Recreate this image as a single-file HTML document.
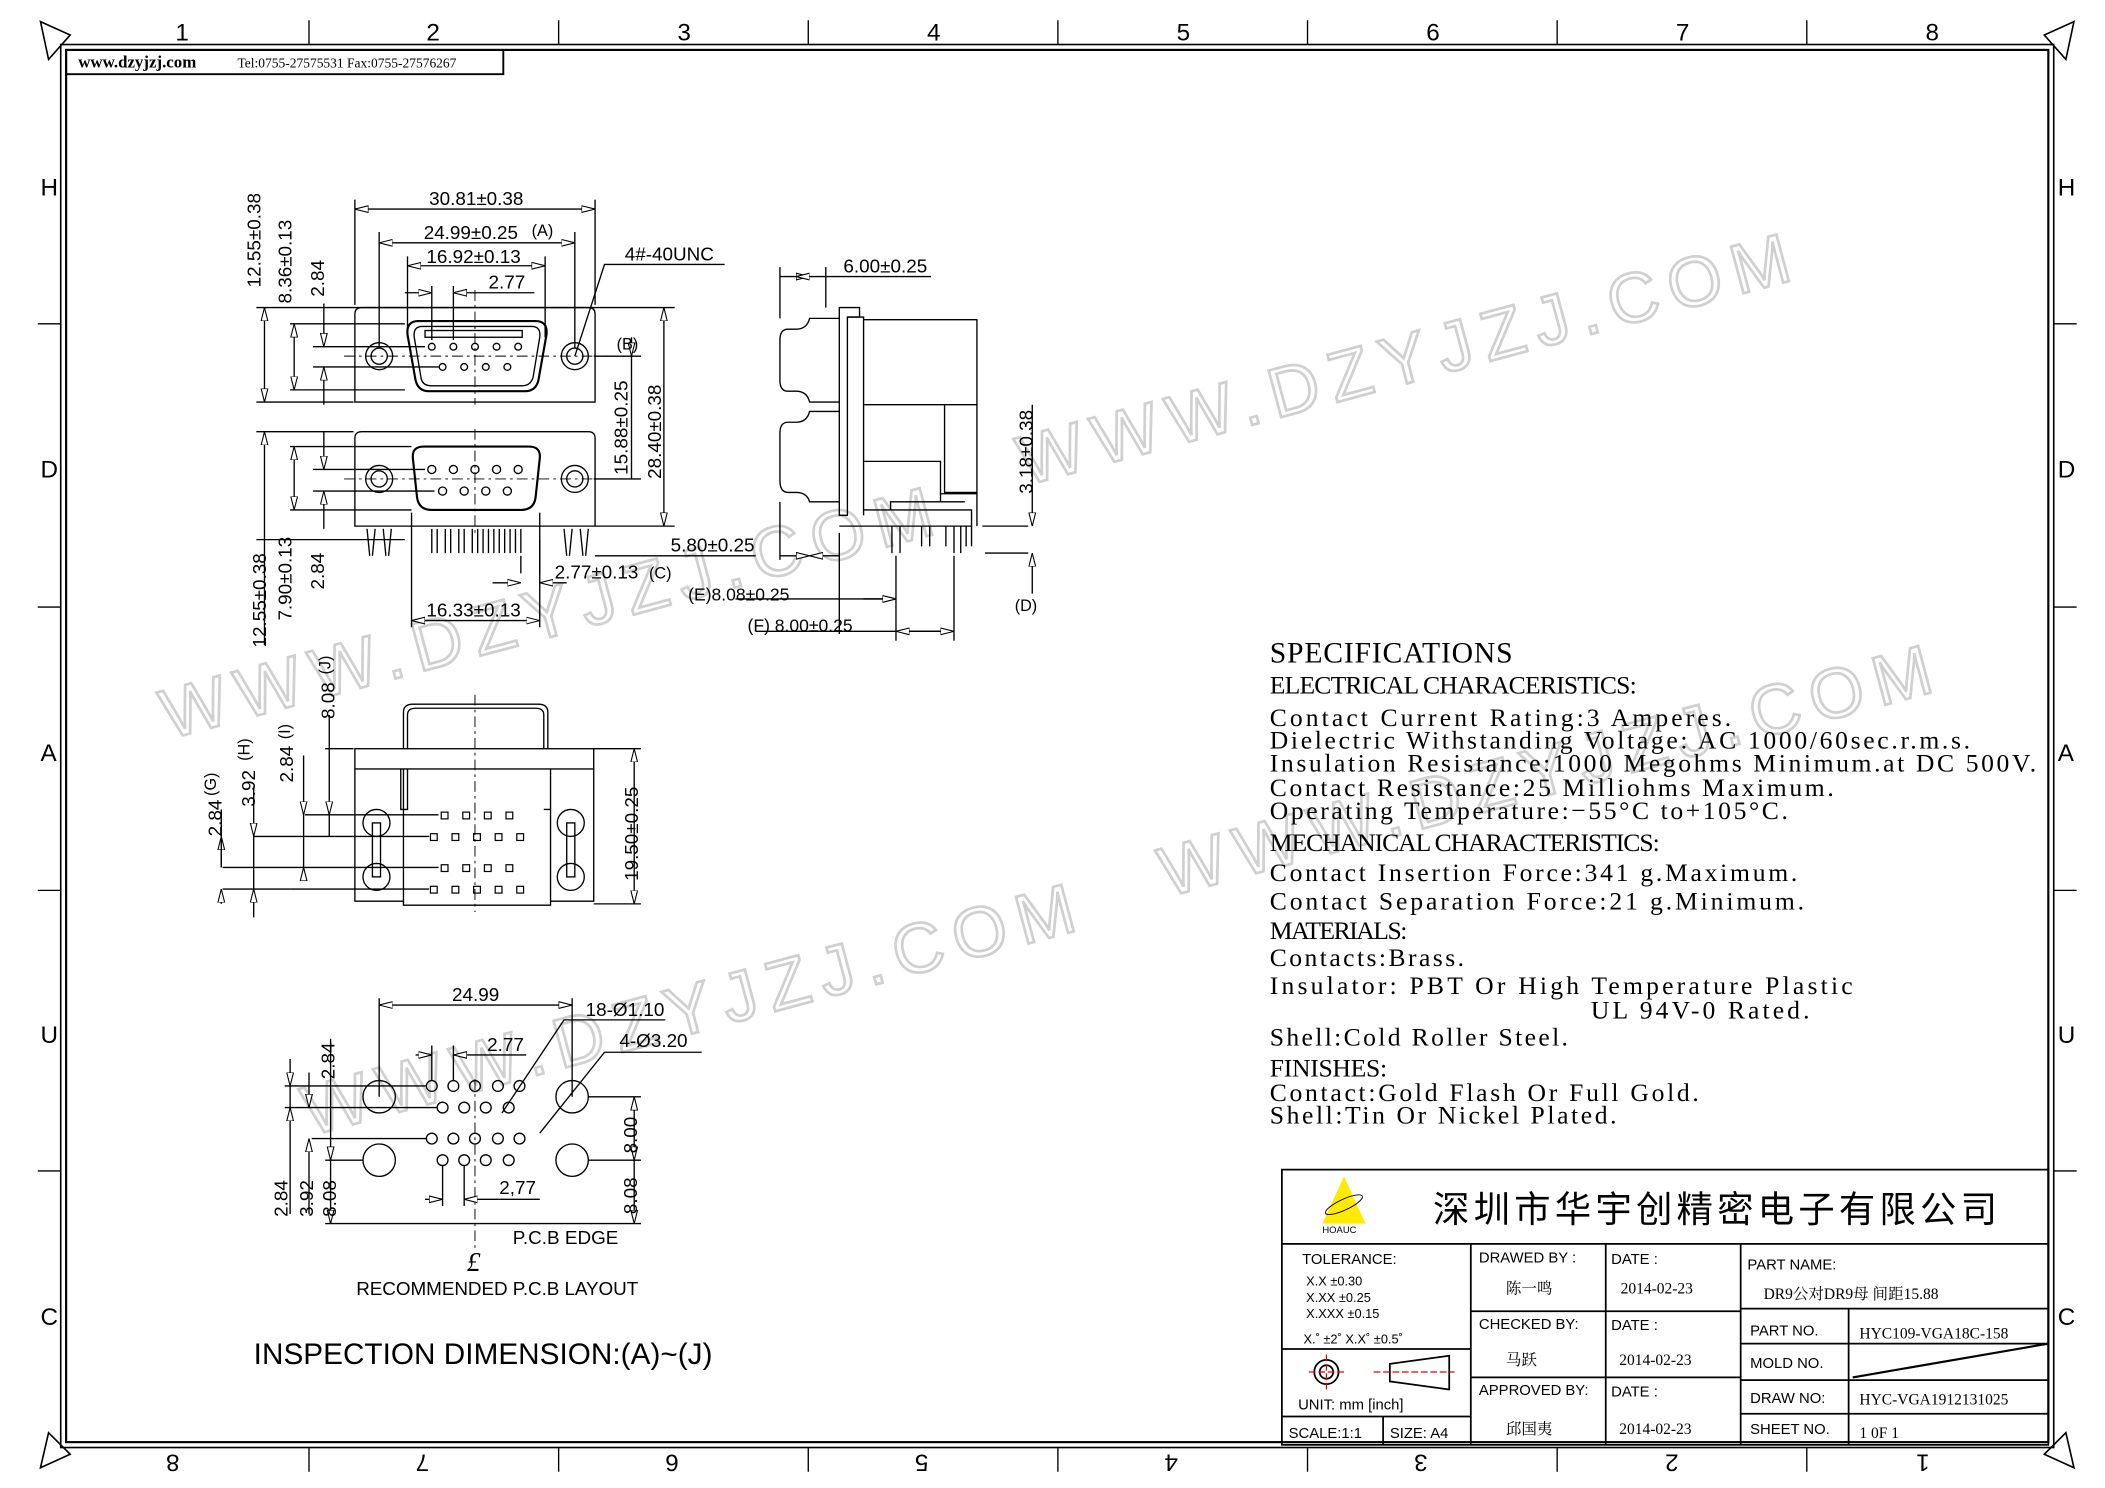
<!DOCTYPE html>
<html><head><meta charset="utf-8"><style>
html,body{margin:0;padding:0;background:#fff}
svg{display:block;font-family:"Liberation Sans","Noto Sans CJK SC",sans-serif}
g.sp{font-family:"Liberation Serif","Noto Serif CJK SC",serif;font-size:19px}
g.d{font-size:14px}
g.wm{font-family:"Liberation Sans",sans-serif;font-size:52px;font-weight:normal;fill:none;stroke:#d0d0d0;stroke-width:2}
g.ser{font-family:"Liberation Serif","Noto Serif CJK SC",serif;font-size:11.5px}
</style></head><body>
<svg width="2105" height="1488" viewBox="0 0 1560 1103" preserveAspectRatio="none" xmlns="http://www.w3.org/2000/svg">
<defs>
<marker id="a" viewBox="0 0 10 6" refX="10" refY="3" markerWidth="10" markerHeight="6" orient="auto-start-reverse" markerUnits="userSpaceOnUse"><path d="M0,0.5 L10,3 L0,5.5 Z" fill="#fff" stroke="#000" stroke-width="0.8"/></marker>
</defs>
<rect width="1560" height="1103" fill="#fff"/>

<g class="wm">
<text x="760" y="360" transform="rotate(-15 760 360)" textLength="590">WWW.DZYJZJ.COM</text>
<text x="125" y="548" transform="rotate(-15 125 548)" textLength="590">WWW.DZYJZJ.COM</text>
<text x="865" y="665" transform="rotate(-15 865 665)" textLength="590">WWW.DZYJZJ.COM</text>
<text x="230" y="842" transform="rotate(-15 230 842)" textLength="590">WWW.DZYJZJ.COM</text>
</g>

<g fill="none" stroke="#000">
<rect x="45" y="33" width="1477" height="1040" stroke-width="1.2"/>
<rect x="49" y="37" width="1469" height="1032" stroke-width="1.6"/>
<path d="M229,15V33 M414,15V33 M599,15V33 M784,15V33 M969,15V33 M1154,15V33 M1339,15V33"/>
<path d="M229,1073V1091 M414,1073V1091 M599,1073V1091 M784,1073V1091 M969,1073V1091 M1154,1073V1091 M1339,1073V1091"/>
<path d="M28,240H45 M28,450H45 M28,660H45 M28,868H45 M1522,240H1539 M1522,450H1539 M1522,660H1539 M1522,868H1539"/>
<path d="M30,16 L52,26 L36,44 Z M1537,16 L1515,26 L1531,44 Z M30,1088 L52,1078 L36,1062 Z M1537,1088 L1515,1078 L1531,1062 Z" stroke-width="1.2"/>
</g>
<g font-size="18">
<text x="130" y="30">1</text><text x="316" y="30">2</text><text x="502" y="30">3</text><text x="687" y="30">4</text><text x="872" y="30">5</text><text x="1057" y="30">6</text><text x="1242" y="30">7</text><text x="1427" y="30">8</text>
<g transform="rotate(180 780 1084)"><text x="130" y="1090">1</text><text x="316" y="1090">2</text><text x="502" y="1090">3</text><text x="687" y="1090">4</text><text x="872" y="1090">5</text><text x="1057" y="1090">6</text><text x="1242" y="1090">7</text><text x="1427" y="1090">8</text></g>
<text x="30" y="145">H</text><text x="30" y="354">D</text><text x="30" y="564">A</text><text x="30" y="773">U</text><text x="30" y="982">C</text>
<text x="1525" y="145">H</text><text x="1525" y="354">D</text><text x="1525" y="564">A</text><text x="1525" y="773">U</text><text x="1525" y="982">C</text>
</g>
<rect x="49" y="37" width="324" height="18" fill="none" stroke="#000" stroke-width="1.4"/>
<text x="58" y="50" font-family="Liberation Serif,serif" font-weight="bold" font-size="12.5">www.dzyjzj.com</text>
<text x="176" y="50" font-family="Liberation Serif,serif" font-size="10">Tel:0755-27575531  Fax:0755-27576267</text>

<!-- FRONT VIEW -->
<g fill="none" stroke="#000" stroke-width="1">
<path d="M268,228 H436 Q441,228 441,233 V298 H263 V233 Q263,228 268,228 Z"/>
<path d="M310,238 H397 Q406,238 405,248 L399,282 Q397,290 389,290 H318 Q310,290 308,282 L302,248 Q301,238 310,238 Z" stroke-width="1.6"/>
<path d="M313,242 H394 Q401,242 400,250 L395,280 Q393,286 387,286 H320 Q313,286 312,280 L307,250 Q306,242 313,242 Z"/>
<rect x="315" y="245" width="72" height="5"/>
<circle cx="281" cy="264" r="10"/><circle cx="281" cy="264" r="6"/>
<circle cx="426" cy="264" r="10"/><circle cx="426" cy="264" r="6"/>
<circle cx="320" cy="257" r="2.5"/><circle cx="336" cy="257" r="2.5"/><circle cx="352" cy="257" r="2.5"/><circle cx="368" cy="257" r="2.5"/><circle cx="384" cy="257" r="2.5"/>
<circle cx="328" cy="272" r="2.5"/><circle cx="344" cy="272" r="2.5"/><circle cx="360" cy="272" r="2.5"/><circle cx="376" cy="272" r="2.5"/>
<path d="M268,320 H436 Q441,320 441,325 V390 H263 V325 Q263,320 268,320 Z"/>
<path d="M314,331 H392 Q401,331 400,340 L397,368 Q396,378 386,378 H320 Q310,378 309,368 L306,340 Q305,331 314,331 Z" stroke-width="1.6"/>
<circle cx="281" cy="355" r="10"/><circle cx="281" cy="355" r="6"/>
<circle cx="426" cy="355" r="10"/><circle cx="426" cy="355" r="6"/>
<circle cx="320" cy="348" r="3"/><circle cx="336" cy="348" r="3"/><circle cx="352" cy="348" r="3"/><circle cx="368" cy="348" r="3"/><circle cx="384" cy="348" r="3"/>
<circle cx="328" cy="364" r="3"/><circle cx="344" cy="364" r="3"/><circle cx="360" cy="364" r="3"/><circle cx="376" cy="364" r="3"/>
<path d="M320,392V410 M324,392V410 M330,392V410 M334,392V410 M340,392V410 M344,392V410 M350,392V410 M354,392V410 M358,392V410 M362,392V410 M366,392V410 M370,392V410 M374,392V410 M378,392V410 M382,392V410 M386,392V410"/>
<path d="M272,392 L274,412 M278,392 L276,412 M284,392 L286,412 M290,392 L288,412"/>
<path d="M418,392 L420,412 M424,392 L422,412 M430,392 L432,412 M436,392 L434,412"/>
<path d="M352,215 V300 M352,318 V395 M255,264 H450 M255,355 H450" stroke-dasharray="8,3,2,3" stroke-width="0.7"/>
<path d="M263,226 V148 M441,226 V148 M281,258 V172 M426,258 V172 M302,250 V190 M404,250 V190 M320,252 V212 M336,252 V212"/>
<path d="M263,155 H441" marker-start="url(#a)" marker-end="url(#a)"/>
<path d="M281,180 H426" marker-start="url(#a)" marker-end="url(#a)"/>
<path d="M302,197 H404" marker-start="url(#a)" marker-end="url(#a)"/>
<path d="M300,217 H320" marker-end="url(#a)"/><path d="M396,217 H336" marker-end="url(#a)"/>
<path d="M426,264 L448,196 H537"/>
<path d="M190,228 H500 M215,240 H300 M232,257 H315 M232,272 H325 M215,289 H300 M190,298 H262"/>
<path d="M196,228 V298" marker-start="url(#a)" marker-end="url(#a)"/>
<path d="M218,240 V289" marker-start="url(#a)" marker-end="url(#a)"/>
<path d="M240,225 V257" marker-end="url(#a)"/><path d="M240,300 V272" marker-end="url(#a)"/>
<path d="M492,228 V390" marker-start="url(#a)" marker-end="url(#a)"/>
<path d="M468,250 V264" marker-end="url(#a)"/><path d="M468,355 V264"/>
<path d="M440,264 H475 M440,355 H475 M441,390 H500"/>
<path d="M190,320 H262 M215,331 H305 M232,348 H315 M232,364 H322 M215,378 H305 M190,400 H300"/>
<path d="M196,320 V478" marker-start="url(#a)"/>
<path d="M218,331 V378" marker-start="url(#a)" marker-end="url(#a)"/>
<path d="M240,320 V348" marker-end="url(#a)"/><path d="M240,392 V364" marker-end="url(#a)"/>
<path d="M305,380 V465 M400,380 V465"/>
<path d="M305,460 H400" marker-start="url(#a)" marker-end="url(#a)"/>
<path d="M400,400 V425 M386,412 V425 M365,432 H386" marker-end="url(#a)"/>
<path d="M420,432 H400" marker-end="url(#a)"/>
<path d="M560,412 H441"/>
</g>
<g class="d">
<text x="318" y="152">30.81±0.38</text>
<text x="314" y="177">24.99±0.25</text><text x="394" y="175" font-size="12">(A)</text>
<text x="316" y="195">16.92±0.13</text>
<text x="362" y="214">2.77</text>
<text x="463" y="193">4#-40UNC</text>
<text x="457" y="259" font-size="12">(B)</text>
<text x="497" y="409">5.80±0.25</text>
<text x="411" y="429">2.77±0.13</text><text x="481" y="429" font-size="12">(C)</text>
<text x="316" y="457">16.33±0.13</text>
<text transform="translate(193,213) rotate(-90)">12.55±0.38</text>
<text transform="translate(216,225) rotate(-90)">8.36±0.13</text>
<text transform="translate(240,220) rotate(-90)">2.84</text>
<text transform="translate(197,480) rotate(-90)">12.55±0.38</text>
<text transform="translate(216,460) rotate(-90)">7.90±0.13</text>
<text transform="translate(240,437) rotate(-90)">2.84</text>
<text transform="translate(465,352) rotate(-90)">15.88±0.25</text>
<text transform="translate(490,355) rotate(-90)">28.40±0.38</text>
</g>

<!-- SIDE VIEW -->
<g fill="none" stroke="#000" stroke-width="1">
<path d="M622,228 H637 V235 H628 V382 H622 Z"/>
<path d="M628,235 H640 V382"/>
<path d="M622,236 H600 Q598,244 590,244 H584 Q578,244 578,252 V282 Q578,290 584,290 H590 Q598,290 600,298 H622"/>
<path d="M622,305 H600 Q598,313 590,313 H584 Q578,313 578,321 V356 Q578,365 584,365 H590 Q598,365 600,372 H622"/>
<path d="M640,237 H724 V390 M640,300 H724 M640,342 H697 V372 M700,300 V365 H724 M697,366 H724"/>
<path d="M640,378 H720 V390 H622 M660,378 V372 H715"/>
<path d="M661,390V410 M667,390V410 M683,390V405 M689,390V405 M701,390V405 M707,390V410 M712,390V410 M716,390V405 M720,390V405"/>
<path d="M578,236 V198 M612,228 V198 M578,205 H600" marker-end="url(#a)"/>
<path d="M612,205 H590" marker-end="url(#a)"/>
<path d="M612,205 H690"/>
<path d="M578,372 V415 M622,395 V470 M664,412 V475 M707,412 V475"/>
<path d="M578,412 H600" marker-end="url(#a)"/><path d="M622,412 H600" marker-end="url(#a)"/>
<path d="M545,444 H664" marker-end="url(#a)"/><path d="M664,444 H640" marker-start="url(#a)"/>
<path d="M560,468 H707"/>
<path d="M664,468 H707" marker-start="url(#a)" marker-end="url(#a)"/>
<path d="M728,390 H762 M730,410 H762"/>
<path d="M765,300 V390" marker-end="url(#a)"/><path d="M765,440 V410" marker-end="url(#a)"/>
</g>
<g class="d">
<text x="625" y="202">6.00±0.25</text>
<text transform="translate(765,366) rotate(-90)">3.18±0.38</text>
<text x="752" y="453" font-size="12">(D)</text>
<text x="510" y="445" font-size="13">(E)8.08±0.25</text>
<text x="554" y="468" font-size="13">(F) 8.00±0.25</text>
</g>

<!-- BOTTOM VIEW -->
<g fill="none" stroke="#000" stroke-width="1">
<path d="M299,555 V528 Q299,522 306,522 H399 Q406,522 406,528 V555 M302,555 V530 Q302,525 308,525 H397 Q403,525 403,530 V555"/>
<rect x="263" y="555" width="177" height="15"/>
<path d="M263,570 V668 H299 M440,570 V668 H408 M299,570 V671 H408 V570 M297,570 V600 H302 V570 M408,570 V600 H403"/>
<circle cx="279" cy="610" r="10"/><circle cx="279" cy="650" r="10"/><rect x="276" y="610" width="6" height="40"/>
<circle cx="423" cy="610" r="10"/><circle cx="423" cy="650" r="10"/><rect x="420" y="610" width="6" height="40"/>
<path d="M352,515 V676" stroke-dasharray="8,3,2,3" stroke-width="0.7"/>
<g stroke-width="0.9">
<rect x="327" y="602" width="5" height="5"/><rect x="343" y="602" width="5" height="5"/><rect x="359" y="602" width="5" height="5"/><rect x="375" y="602" width="5" height="5"/>
<rect x="319" y="618" width="5" height="5"/><rect x="335" y="618" width="5" height="5"/><rect x="351" y="618" width="5" height="5"/><rect x="367" y="618" width="5" height="5"/><rect x="383" y="618" width="5" height="5"/>
<rect x="327" y="641" width="5" height="5"/><rect x="343" y="641" width="5" height="5"/><rect x="359" y="641" width="5" height="5"/><rect x="375" y="641" width="5" height="5"/>
<rect x="319" y="657" width="5" height="5"/><rect x="335" y="657" width="5" height="5"/><rect x="351" y="657" width="5" height="5"/><rect x="367" y="657" width="5" height="5"/><rect x="383" y="657" width="5" height="5"/>
</g>
<path d="M226,604 H325 M248,620 H318 M216,643 H325 M215,659 H318 M440,555 H475 M440,670 H475"/>
<path d="M241,555 H262"/>
<path d="M470,555 V670" marker-start="url(#a)" marker-end="url(#a)"/>
<path d="M244,530 V604" marker-end="url(#a)"/><path d="M244,620 V604"/>
<path d="M225,560 V643"/><path d="M225,600 V604" marker-end="url(#a)"/><path d="M225,650 V643" marker-end="url(#a)"/>
<path d="M188,583 V620" marker-end="url(#a)"/><path d="M188,680 V659" marker-end="url(#a)"/><path d="M188,620 V659"/>
<path d="M164,620 V643" marker-start="url(#a)"/><path d="M164,670 V659" marker-end="url(#a)"/><path d="M164,600 V643"/>
<path d="M165,643 H216 M165,659 H215 M188,620 H248"/>
</g>
<g class="d">
<text transform="translate(248,533) rotate(-90)">8.08</text>
<text transform="translate(245,500) rotate(-90)" font-size="12">(J)</text>
<text transform="translate(217,580) rotate(-90)">2.84</text>
<text transform="translate(215,548) rotate(-90)" font-size="12">(I)</text>
<text transform="translate(189,598) rotate(-90)">3.92</text>
<text transform="translate(185,564) rotate(-90)" font-size="12">(H)</text>
<text transform="translate(164,620) rotate(-90)">2.84</text>
<text transform="translate(160,590) rotate(-90)" font-size="12">(G)</text>
<text transform="translate(473,653) rotate(-90)">19.50±0.25</text>
</g>

<!-- PCB LAYOUT -->
<g fill="none" stroke="#000" stroke-width="1">
<circle cx="281" cy="813" r="12"/><circle cx="424" cy="813" r="12"/><circle cx="281" cy="860" r="12"/><circle cx="424" cy="860" r="12"/>
<circle cx="320" cy="805" r="4"/><circle cx="336" cy="805" r="4"/><circle cx="352" cy="805" r="4"/><circle cx="369" cy="805" r="4"/><circle cx="385" cy="805" r="4"/>
<circle cx="328" cy="821" r="4"/><circle cx="344" cy="821" r="4"/><circle cx="360" cy="821" r="4"/><circle cx="377" cy="821" r="4"/>
<circle cx="320" cy="844" r="4"/><circle cx="336" cy="844" r="4"/><circle cx="352" cy="844" r="4"/><circle cx="369" cy="844" r="4"/><circle cx="385" cy="844" r="4"/>
<circle cx="328" cy="860" r="4"/><circle cx="344" cy="860" r="4"/><circle cx="360" cy="860" r="4"/><circle cx="377" cy="860" r="4"/>
<path d="M352,800 V925" stroke-dasharray="8,3,2,3" stroke-width="0.7"/>
<path d="M281,813 V740 M424,813 V740"/>
<path d="M281,745 H424" marker-start="url(#a)" marker-end="url(#a)"/>
<path d="M308,782 H320" marker-end="url(#a)"/><path d="M390,782 H336" marker-end="url(#a)"/>
<path d="M320,801 V775 M336,801 V775"/>
<path d="M315,889 H328" marker-end="url(#a)"/><path d="M400,889 H344" marker-end="url(#a)"/>
<path d="M328,864 V894 M344,864 V894"/>
<path d="M372,825 L418,756 H493"/>
<path d="M400,840 L448,780 H520"/>
<path d="M211,805 H316 M211,821 H324 M231,844 H316 M241,860 H269 M436,813 H475 M436,860 H475"/>
<path d="M241,907 H475"/>
<path d="M470,813 V860" marker-start="url(#a)" marker-end="url(#a)"/>
<path d="M470,860 V907" marker-end="url(#a)"/>
<path d="M215,785 V805" marker-end="url(#a)"/><path d="M215,900 V821" marker-end="url(#a)"/><path d="M215,805 V821"/>
<path d="M229,795 V821" marker-end="url(#a)"/><path d="M229,900 V844" marker-end="url(#a)"/>
<path d="M245,770 V860" marker-end="url(#a)"/><path d="M245,860 V907" marker-end="url(#a)"/>
</g>
<g class="d">
<text x="335" y="742">24.99</text>
<text x="434" y="753">18-Ø1.10</text>
<text x="459" y="776">4-Ø3.20</text>
<text x="361" y="779">2.77</text>
<text x="370" y="885">2,77</text>
<text transform="translate(472,855) rotate(-90)">8.00</text>
<text transform="translate(472,900) rotate(-90)">8.08</text>
<text transform="translate(248,800) rotate(-90)">2.84</text>
<text transform="translate(213,902) rotate(-90)">2.84</text>
<text transform="translate(232,902) rotate(-90)">3.92</text>
<text transform="translate(249,902) rotate(-90)">8.08</text>
<text x="380" y="922">P.C.B EDGE</text>
<text x="346" y="942" font-family="Liberation Serif,serif" font-style="italic" font-size="20">£</text>
<text x="264" y="960" font-size="14" textLength="209">RECOMMENDED P.C.B LAYOUT</text>
<text x="188" y="1011" font-size="22" textLength="340">INSPECTION DIMENSION:(A)~(J)</text>
</g>

<!-- SPECS -->
<g class="sp">
<text x="941" y="491" font-size="22" textLength="180">SPECIFICATIONS</text>
<text x="941" y="514" textLength="272">ELECTRICAL CHARACERISTICS:</text>
<text x="941" y="538" textLength="342">Contact Current Rating:3 Amperes.</text>
<text x="941" y="555" textLength="519">Dielectric Withstanding Voltage: AC 1000/60sec.r.m.s.</text>
<text x="941" y="572" textLength="568">Insulation Resistance:1000 Megohms Minimum.at DC 500V.</text>
<text x="941" y="590" textLength="418">Contact Resistance:25 Milliohms Maximum.</text>
<text x="941" y="607" textLength="384">Operating Temperature:−55°C to+105°C.</text>
<text x="941" y="631" textLength="289">MECHANICAL CHARACTERISTICS:</text>
<text x="941" y="653" textLength="391">Contact Insertion Force:341 g.Maximum.</text>
<text x="941" y="674" textLength="396">Contact Separation Force:21 g.Minimum.</text>
<text x="941" y="696" textLength="102">MATERIALS:</text>
<text x="941" y="716" textLength="144">Contacts:Brass.</text>
<text x="941" y="737" textLength="432">Insulator: PBT Or High Temperature Plastic</text>
<text x="1179" y="755" textLength="162">UL 94V-0 Rated.</text>
<text x="941" y="775" textLength="221">Shell:Cold Roller Steel.</text>
<text x="941" y="798" textLength="87">FINISHES:</text>
<text x="941" y="816" textLength="318">Contact:Gold Flash Or Full Gold.</text>
<text x="941" y="833" textLength="257">Shell:Tin Or Nickel Plated.</text>
</g>

<!-- TITLE BLOCK -->
<g fill="none" stroke="#000" stroke-width="1.3">
<rect x="950" y="867" width="568" height="204"/>
<path d="M950,922 H1518 M1090,922 V1071 M1190,922 V1071 M1290,922 V1071 M1370,970 V1071"/>
<path d="M1090,972 H1290 M1090,1021 H1290 M1290,970 H1518 M1290,996 H1518 M1290,1023 H1518 M1290,1048 H1518"/>
<path d="M950,1000 H1090 M950,1050 H1090 M1025,1050 V1071"/>
<path d="M1373,1021 L1518,996" stroke-width="1.6"/>
<circle cx="983" cy="1017" r="9"/><circle cx="983" cy="1017" r="5"/>
<path d="M1030,1011 L1074,1005 V1030 L1030,1024 Z"/>
</g>
<path d="M970,1017 H996 M983,1004 V1030 M1018,1017 H1078" stroke="#e00" stroke-width="0.9" stroke-dasharray="5,2"/>
<path d="M996,872 L1012,907 H980 Z" fill="#ffea00"/>
<ellipse cx="996" cy="893" rx="15" ry="4" transform="rotate(-25 996 893)" fill="none" stroke="#000" stroke-width="0.7"/>
<text x="980" y="914" font-size="7">HOAUC</text>
<text x="1062" y="906" font-size="27" textLength="418">深圳市华宇创精密电子有限公司</text>
<g font-size="11">
<text x="965" y="937">TOLERANCE:</text>
<text x="968" y="953" font-size="9.5">X.X      ±0.30</text>
<text x="968" y="965" font-size="9.5">X.XX     ±0.25</text>
<text x="968" y="977" font-size="9.5">X.XXX  ±0.15</text>
<text x="966" y="996" font-size="9.5">X.˚ ±2˚      X.X˚ ±0.5˚</text>
<text x="962" y="1045">UNIT:  mm  [inch]</text>
<text x="955" y="1066">SCALE:1:1</text>
<text x="1030" y="1066">SIZE:  A4</text>
<text x="1096" y="936">DRAWED  BY  :</text>
<text x="1096" y="985">CHECKED  BY:</text>
<text x="1096" y="1034">APPROVED  BY:</text>
<text x="1194" y="937">DATE  :</text>
<text x="1194" y="986">DATE  :</text>
<text x="1194" y="1035">DATE  :</text>
<text x="1295" y="941">PART  NAME:</text>
<text x="1297" y="990">PART  NO.</text>
<text x="1297" y="1014">MOLD  NO.</text>
<text x="1297" y="1040">DRAW  NO:</text>
<text x="1297" y="1063">SHEET  NO.</text>
</g>
<g class="ser">
<text x="1116" y="959">陈一鸣</text>
<text x="1116" y="1012">马跃</text>
<text x="1116" y="1063">邱国夷</text>
<text x="1201" y="959">2014-02-23</text>
<text x="1200" y="1012">2014-02-23</text>
<text x="1200" y="1063">2014-02-23</text>
<text x="1307" y="963">DR9公对DR9母 间距15.88</text>
<text x="1378" y="992">HYC109-VGA18C-158</text>
<text x="1378" y="1041">HYC-VGA1912131025</text>
<text x="1378" y="1066">1 0F 1</text>
</g>
</svg>
</body></html>
